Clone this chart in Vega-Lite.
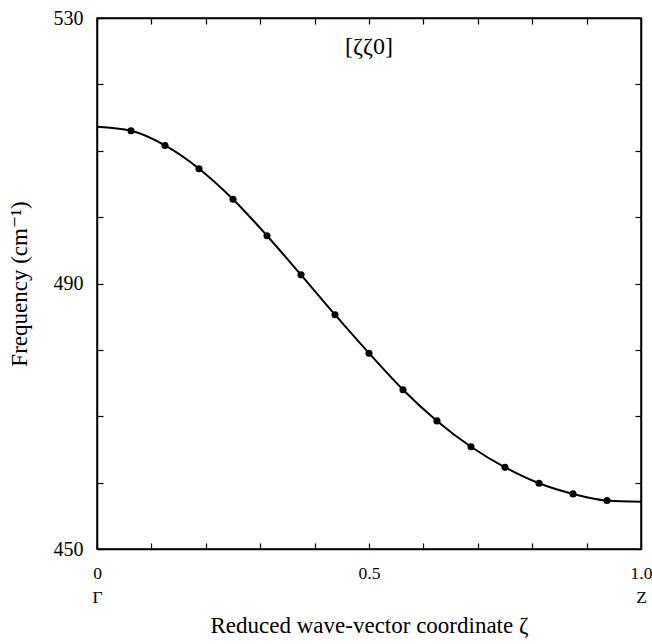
{
  "$schema": "https://vega.github.io/schema/vega-lite/v6.json",
  "autosize": "none",
  "width": 544,
  "height": 531,
  "padding": {"left": 97, "top": 18, "right": 11, "bottom": 95},
  "background": "white",
  "config": {
    "font": "'Liberation Serif', 'DejaVu Serif', serif",
    "view": {"stroke": "black", "strokeWidth": 1.5},
    "axis": {
      "domainColor": "black",
      "domainWidth": 1.5,
      "tickColor": "black",
      "tickWidth": 1.2,
      "tickSize": -6,
      "grid": false,
      "labelFont": "'Liberation Serif', 'DejaVu Serif', serif",
      "labelFontSize": 20,
      "labelColor": "black",
      "labelFlush": false,
      "labelOverlap": false,
      "titleFont": "'Liberation Serif', 'DejaVu Serif', serif",
      "titleFontSize": 23,
      "titleFontWeight": "normal",
      "titleColor": "black"
    }
  },
  "datasets": {
    "curve": [
      {"x": 0, "y": 513.6},
      {"x": 0.0625, "y": 513.0},
      {"x": 0.125, "y": 510.8},
      {"x": 0.1875, "y": 507.3},
      {"x": 0.25, "y": 502.7},
      {"x": 0.3125, "y": 497.2},
      {"x": 0.375, "y": 491.3},
      {"x": 0.4375, "y": 485.3},
      {"x": 0.5, "y": 479.5},
      {"x": 0.5625, "y": 474.0},
      {"x": 0.625, "y": 469.3},
      {"x": 0.6875, "y": 465.4},
      {"x": 0.75, "y": 462.3},
      {"x": 0.8125, "y": 459.9},
      {"x": 0.875, "y": 458.3},
      {"x": 0.9375, "y": 457.3},
      {"x": 1.0, "y": 457.1}
    ],
    "points": [
      {"x": 0.0625, "y": 513.0},
      {"x": 0.125, "y": 510.8},
      {"x": 0.1875, "y": 507.3},
      {"x": 0.25, "y": 502.7},
      {"x": 0.3125, "y": 497.2},
      {"x": 0.375, "y": 491.3},
      {"x": 0.4375, "y": 485.3},
      {"x": 0.5, "y": 479.5},
      {"x": 0.5625, "y": 474.0},
      {"x": 0.625, "y": 469.3},
      {"x": 0.6875, "y": 465.4},
      {"x": 0.75, "y": 462.3},
      {"x": 0.8125, "y": 459.9},
      {"x": 0.875, "y": 458.3},
      {"x": 0.9375, "y": 457.3}
    ],
    "label": [{"x": 0.5, "y": 525.6, "text": "[ζζ0]"}]
  },
  "layer": [
    {
      "data": {"name": "curve"},
      "mark": {"type": "line", "interpolate": "monotone", "color": "black", "strokeWidth": 2},
      "encoding": {
        "x": {
          "field": "x", "type": "quantitative",
          "scale": {"domain": [0, 1], "nice": false, "zero": false},
          "axis": {
            "orient": "bottom",
            "values": [0, 0.1, 0.2, 0.3, 0.4, 0.5, 0.6, 0.7, 0.8, 0.9, 1.0],
            "labelExpr": "datum.value == 0 ? ['0', 'Γ'] : (datum.value == 1 ? ['1.0', 'Z'] : (datum.value == 0.5 ? '0.5' : ''))",
            "labelFontSize": 17.5,
            "labelPadding": 30,
            "labelLineHeight": 24,
            "labelBaseline": "middle",
            "title": "Reduced wave-vector coordinate ζ",
            "titlePadding": 9
          }
        },
        "y": {
          "field": "y", "type": "quantitative",
          "scale": {"domain": [450, 530], "nice": false, "zero": false},
          "axis": {
            "orient": "left",
            "values": [450, 460, 470, 480, 490, 500, 510, 520, 530],
            "labelExpr": "datum.value % 40 == 10 ? datum.label : ''",
            "labelPadding": 20,
            "title": "Frequency (cm⁻¹)",
            "titlePadding": 22
          }
        }
      }
    },
    {
      "data": {"name": "points"},
      "mark": {"type": "circle", "size": 50, "color": "black", "opacity": 1},
      "encoding": {
        "x": {
          "field": "x", "type": "quantitative",
          "axis": {
            "orient": "top",
            "values": [0, 0.1, 0.2, 0.3, 0.4, 0.5, 0.6, 0.7, 0.8, 0.9, 1.0],
            "labels": false,
            "title": null
          }
        },
        "y": {
          "field": "y", "type": "quantitative",
          "axis": {
            "orient": "right",
            "values": [450, 460, 470, 480, 490, 500, 510, 520, 530],
            "labels": false,
            "title": null
          }
        }
      }
    },
    {
      "data": {"name": "label"},
      "mark": {"type": "text", "fontSize": 24, "font": "'Liberation Serif', 'DejaVu Serif', serif", "color": "black"},
      "encoding": {
        "x": {"field": "x", "type": "quantitative", "axis": null},
        "y": {"field": "y", "type": "quantitative", "axis": null},
        "text": {"field": "text"}
      }
    }
  ],
  "resolve": {"axis": {"x": "independent", "y": "independent"}}
}
